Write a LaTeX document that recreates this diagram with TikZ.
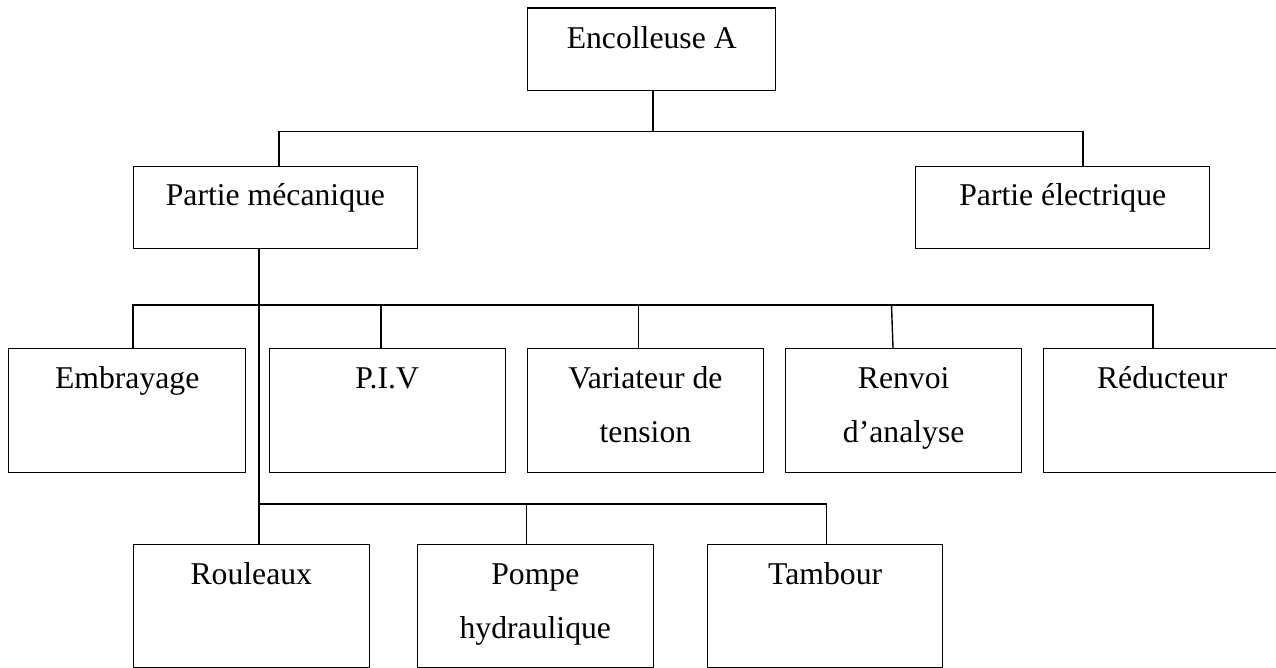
\documentclass[tikz,border=0pt]{standalone}
\usepackage{fontspec}
\setmainfont{Liberation Serif}
\begin{document}
\begin{tikzpicture}[x=1pt,y=-1pt,
  box/.style={draw, line width=1.4pt, inner sep=0pt, anchor=north west},
  lbl/.style={inner sep=0pt, anchor=base, font=\fontsize{31.7}{38}\selectfont},
  wire/.style={line width=1.4pt}]
\useasboundingbox (0,0) rectangle (1276,668);
\clip (0,0) rectangle (1276,668);

% top level
\node[box, minimum width=248pt, minimum height=82.5pt] (enc) at (527,7.5) {};
\node[lbl] (tenc) at ([yshift=-41.5pt]enc.north) {Encolleuse A};

% second level
\node[box, minimum width=284pt, minimum height=82pt] (mec) at (132.7,165.7) {};
\node[box, minimum width=294pt, minimum height=82pt] (ele) at (915,165.7) {};
\node[lbl] (tmec) at ([yshift=-40.3pt]mec.north) {Partie mécanique};
\node[lbl] (tele) at ([yshift=-40.3pt]ele.north) {Partie électrique};

% third level
\node[box, minimum width=237pt, minimum height=123.7pt] (emb) at (8,348) {};
\node[box, minimum width=236pt, minimum height=123.7pt] (piv) at (268.5,348) {};
\node[box, minimum width=235.5pt, minimum height=123.7pt] (var) at (527,348) {};
\node[box, minimum width=236pt, minimum height=123.7pt] (ren) at (785,348) {};
\node[box, minimum width=237pt, minimum height=123.7pt] (red) at (1043,348) {};
\node[lbl] (temb) at ([yshift=-40.3pt]emb.north) {Embrayage};
\node[lbl] (tpiv) at ([yshift=-40.3pt]piv.north) {P.I.V};
\node[lbl] (tvar) at ([yshift=-40.3pt]var.north) {Variateur de};
\node[lbl] (tvarb) at ([yshift=-94.8pt]var.north) {tension};
\node[lbl] (tren) at ([yshift=-40.3pt]ren.north) {Renvoi};
\node[lbl] (trenb) at ([yshift=-94.8pt]ren.north) {d’analyse};
\node[lbl] (tred) at ([yshift=-40.3pt]red.north) {Réducteur};

% fourth level
\node[box, minimum width=236pt, minimum height=122.5pt] (rou) at (132.6,544) {};
\node[box, minimum width=236pt, minimum height=122.5pt] (pom) at (416.6,544) {};
\node[box, minimum width=235pt, minimum height=122.5pt] (tam) at (707,544) {};
\node[lbl] (trou) at ([yshift=-40.3pt]rou.north) {Rouleaux};
\node[lbl] (tpom) at ([yshift=-40.3pt]pom.north) {Pompe};
\node[lbl] (tpomb) at ([yshift=-94.8pt]pom.north) {hydraulique};
\node[lbl] (ttam) at ([yshift=-40.3pt]tam.north) {Tambour};

% bus rails
\coordinate (busA) at (653,131.5);
\coordinate (aL) at (279,131.5);
\coordinate (aR) at (1083,131.5);
\coordinate (trunk) at (259,248);
\coordinate (bL) at (133,305);
\coordinate (bR) at (1153,305);
\coordinate (bP) at (380.8,305);
\coordinate (bV) at (638.7,305);
\coordinate (bN) at (891.5,305);
\coordinate (cL) at (259,504);
\coordinate (cP) at (526.4,504);
\coordinate (cT) at (826.7,504);

% Encolleuse -> parties
\draw[wire] (enc.south -| busA) -- (busA);
\draw[wire] (aL |- mec.north) -- (aL) -- (aR) -- (aR |- ele.north);

% Partie mécanique trunk down to Rouleaux
\draw[wire] (trunk) -- (trunk |- rou.north);

% third level rail
\draw[wire] (bL |- emb.north) -- (bL) -- (bR) -- (bR |- red.north);
\draw[wire] (bP) -- (bP |- piv.north);
\draw[wire] (bV) -- (bV |- var.north);
\draw[wire] (bN) -- ([xshift=1.5pt]bN |- ren.north);

% fourth level rail
\draw[wire] (cL) -- (cT) -- (cT |- tam.north);
\draw[wire] (cP) -- (cP |- pom.north);
\end{tikzpicture}
\end{document}
